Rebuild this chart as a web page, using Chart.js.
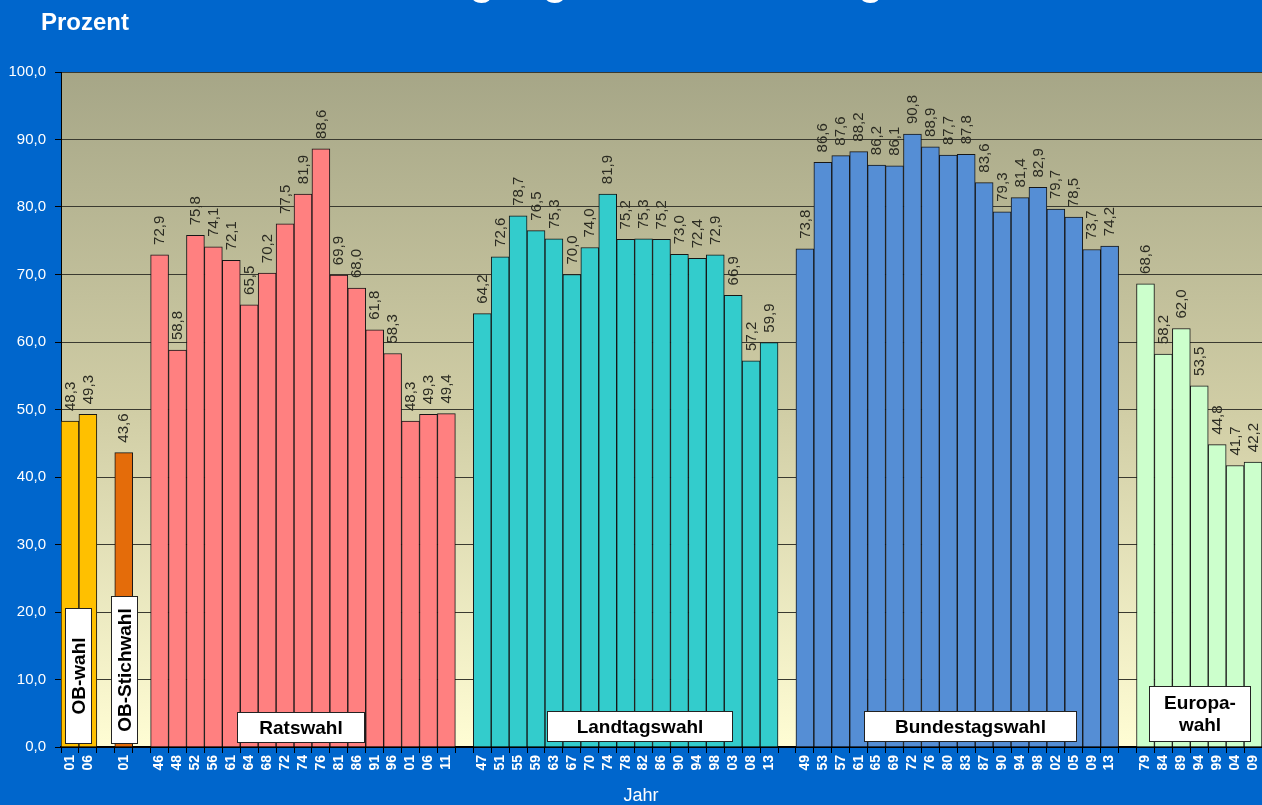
<!DOCTYPE html>
<html>
<head>
<meta charset="utf-8">
<script src="https://cdn.jsdelivr.net/npm/chart.js@4"></script>
<style>
  html, body { margin: 0; padding: 0; background: #0066CC; }
  #wrap { width: 1262px; height: 805px; position: relative; }
</style>
</head>
<body>
<div id="wrap"><canvas id="c" width="1262" height="805"></canvas></div>
<script>
// ---- data ----
const obYears = ['01', '06'];
const obValues = [48.3, 49.3];
const stichYears = ['01'];
const stichValues = [43.6];
const ratYears = ['46','48','52','56','61','64','68','72','74','76','81','86','91','96','01','06','11'];
const ratValues = [72.9, 58.8, 75.8, 74.1, 72.1, 65.5, 70.2, 77.5, 81.9, 88.6, 69.9, 68.0, 61.8, 58.3, 48.3, 49.3, 49.4];
const ltYears = ['47','51','55','59','63','67','70','74','78','82','86','90','94','98','03','08','13'];
const ltValues = [64.2, 72.6, 78.7, 76.5, 75.3, 70.0, 74.0, 81.9, 75.2, 75.3, 75.2, 73.0, 72.4, 72.9, 66.9, 57.2, 59.9];
const btYears = ['49','53','57','61','65','69','72','76','80','83','87','90','94','98','02','05','09','13'];
const btValues = [73.8, 86.6, 87.6, 88.2, 86.2, 86.1, 90.8, 88.9, 87.7, 87.8, 83.6, 79.3, 81.4, 82.9, 79.7, 78.5, 73.7, 74.2];
const euYears = ['79','84','89','94','99','04','09'];
const euValues = [68.6, 58.2, 62.0, 53.5, 44.8, 41.7, 42.2];
const groupNames = ['OB-wahl', 'OB-Stichwahl', 'Ratswahl', 'Landtagswahl', 'Bundestagswahl', 'Europa-|wahl'];
const yTicks = [0, 10, 20, 30, 40, 50, 60, 70, 80, 90, 100];
const chartTitle = 'Wahlbeteiligung in Bonn im Vergleich';
const yTitle = 'Prozent';
const xTitle = 'Jahr';

// ---- build categories with one empty slot between groups ----
const groups = [
  { years: obYears, values: obValues, color: '#FFC000' },
  { years: stichYears, values: stichValues, color: '#E46C0A' },
  { years: ratYears, values: ratValues, color: '#FF8080' },
  { years: ltYears, values: ltValues, color: '#33CCCC' },
  { years: btYears, values: btValues, color: '#558ED5' },
  { years: euYears, values: euValues, color: '#CCFFCC' }
];
const labels = [];
const starts = [];
groups.forEach((g, gi) => {
  if (gi > 0) labels.push('');
  starts.push(labels.length);
  g.years.forEach(y => labels.push(y));
});
const datasets = groups.map((g, gi) => {
  const data = labels.map(() => null);
  g.values.forEach((v, i) => { data[starts[gi] + i] = v; });
  return {
    label: groupNames[gi],
    data,
    backgroundColor: g.color,
    borderColor: '#161616',
    borderWidth: 1,
    barPercentage: 1.0,
    categoryPercentage: 1.0
  };
});

// group label box layout (center as fractional category index, size in px)
const boxLayout = [
  { c: 0.45, w: 26, h: 135, vertical: true, gap: 4 },
  { c: 3.0, w: 26, h: 147, vertical: true, gap: 4 },
  { c: 12.86, w: 127, h: 30, vertical: false, gap: 5 },
  { c: 31.77, w: 185, h: 30, vertical: false, gap: 6 },
  { c: 50.21, w: 212, h: 30, vertical: false, gap: 6 },
  { c: 63.01, w: 101, h: 55, vertical: false, gap: 6 }
];

const FONT = "'Liberation Sans', Arial, sans-serif";
const fmt = v => v.toFixed(1).replace('.', ',');

const decoPlugin = {
  id: 'deco',
  beforeDraw(chart) {
    const { ctx, chartArea: a } = chart;
    ctx.save();
    ctx.fillStyle = '#0066CC';
    ctx.fillRect(0, 0, chart.width, chart.height);
    const g = ctx.createLinearGradient(0, a.top, 0, a.bottom);
    g.addColorStop(0, '#A6A687');
    g.addColorStop(0.5, '#D0CDA5');
    g.addColorStop(1, '#FFFDD4');
    ctx.fillStyle = g;
    ctx.fillRect(a.left, a.top, a.right - a.left, a.bottom - a.top);
    // titles
    ctx.fillStyle = '#FFFFFF';
    ctx.font = 'bold 40px ' + FONT;
    ctx.textAlign = 'left';
    ctx.textBaseline = 'alphabetic';
    ctx.fillText(chartTitle, 260, -5);
    ctx.font = 'bold 24px ' + FONT;
    ctx.fillText(yTitle, 41, 30);
    ctx.font = '18px ' + FONT;
    ctx.textAlign = 'center';
    ctx.fillText(xTitle, 641, 801);
    ctx.restore();
  },
  afterDatasetsDraw(chart) {
    const { ctx, chartArea: a } = chart;
    const xs = chart.scales.x;
    ctx.save();
    // value labels
    ctx.font = '15px ' + FONT;
    ctx.fillStyle = '#2b2b22';
    ctx.textAlign = 'left';
    ctx.textBaseline = 'middle';
    chart.data.datasets.forEach((ds, di) => {
      const meta = chart.getDatasetMeta(di);
      ds.data.forEach((v, i) => {
        if (v === null) return;
        const el = meta.data[i];
        ctx.save();
        ctx.translate(el.x + 0.5, el.y - 10);
        ctx.rotate(-Math.PI / 2);
        ctx.fillText(fmt(v), 0, 0);
        ctx.restore();
      });
    });
    // group label boxes
    groupNames.forEach((name, gi) => {
      const b = boxLayout[gi];
      const cx = xs.getPixelForValue(b.c);
      const bottom = a.bottom - b.gap;
      const x0 = Math.round(cx - b.w / 2) + 0.5;
      const y0 = Math.round(bottom - b.h) + 0.5;
      ctx.fillStyle = '#FFFFFF';
      ctx.fillRect(x0, y0, b.w, b.h);
      ctx.strokeStyle = '#222222';
      ctx.lineWidth = 1;
      ctx.strokeRect(x0, y0, b.w, b.h);
      ctx.fillStyle = '#000000';
      ctx.font = 'bold 19px ' + FONT;
      ctx.textAlign = 'center';
      ctx.textBaseline = 'middle';
      const lines = name.split('|');
      if (b.vertical) {
        ctx.save();
        ctx.translate(x0 + b.w / 2, y0 + b.h / 2);
        ctx.rotate(-Math.PI / 2);
        ctx.fillText(lines[0], 0, 1);
        ctx.restore();
      } else if (lines.length === 1) {
        ctx.fillText(lines[0], x0 + b.w / 2, y0 + b.h / 2 + 1);
      } else {
        ctx.fillText(lines[0], x0 + b.w / 2, y0 + b.h / 2 - 10);
        ctx.fillText(lines[1], x0 + b.w / 2, y0 + b.h / 2 + 12);
      }
    });
    ctx.restore();
  }
};

new Chart(document.getElementById('c'), {
  type: 'bar',
  data: { labels, datasets },
  plugins: [decoPlugin],
  options: {
    responsive: false,
    animation: false,
    layout: { padding: { top: 72, right: 0, left: 0, bottom: 0 } },
    plugins: { legend: { display: false }, tooltip: { enabled: false }, title: { display: false } },
    scales: {
      x: {
        stacked: true,
        afterFit(s) { s.height = 58; s.paddingLeft = 0; s.paddingRight = 0; },
        grid: { display: true, drawOnChartArea: false, drawTicks: true, tickLength: 6, color: '#000000', offset: true },
        border: { display: true, color: '#000000', width: 2 },
        ticks: {
          autoSkip: false, minRotation: 90, maxRotation: 90, padding: 2,
          color: '#FFFFFF', font: { family: FONT, size: 14, weight: 'bold' }
        }
      },
      y: {
        stacked: true,
        min: 0, max: 100,
        afterFit(s) { s.width = 61; s.paddingTop = 0; s.paddingBottom = 0; },
        afterBuildTicks(s) { s.ticks = yTicks.map(v => ({ value: v })); },
        grid: { color: '#3a3a30', lineWidth: 1, tickLength: 6, tickColor: '#000000' },
        border: { display: true, color: '#000000', width: 1 },
        ticks: {
          padding: 9, color: '#FFFFFF', font: { family: FONT, size: 15 },
          callback: v => fmt(v)
        }
      }
    }
  }
});
</script>
</body>
</html>
